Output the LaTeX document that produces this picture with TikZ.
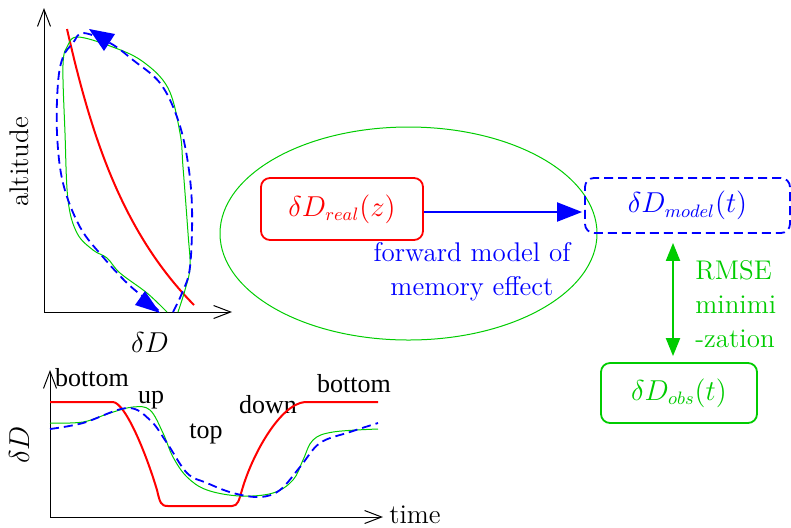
\documentclass[tikz,border=0pt]{standalone}
\usepackage{fontspec}
\newfontfamily\timesf{Liberation Serif}
\usetikzlibrary{arrows.meta,shapes.geometric,calc}
\definecolor{myred}{RGB}{255,0,0}
\definecolor{mygreen}{RGB}{0,204,0}
\definecolor{myblue}{RGB}{0,0,255}
\begin{document}
\begin{tikzpicture}[x=0.5pt,y=-0.5pt,
  axis/.style={line width=0.5pt,-{Straight Barb[length=8.5pt,width=6.5pt]}},
  realline/.style={myred,line width=1pt},
  modelline/.style={myblue,line width=0.9pt,dash pattern=on 4.5pt off 2.5pt},
  obsline/.style={mygreen,line width=0.5pt},
  tri/.style={fill=myblue,draw=none},
  lbl/.style={font=\fontsize{13.5}{17}\selectfont,inner sep=0pt},
  phase/.style={font=\timesf\fontsize{13}{15}\selectfont,inner sep=0pt},
  box/.style={rounded corners=4.5pt,line width=0.9pt,inner sep=0pt,font=\fontsize{13.5}{17}\selectfont}]
\useasboundingbox (0,0) rectangle (791,527);

% ---------- top plot ----------
\coordinate (o1) at (44,312);
\draw[axis] (o1) -- (44,8);
\draw[axis] (o1) -- (232,312);
\node[lbl,rotate=90] (alt) at (19,162) {altitude};
\node[lbl] (dd1) at (150,342) {$\delta D$};

\draw[realline] (67,29) .. controls (90,130) and (120,230) .. (194,305);

\draw[obsline] plot[smooth,tension=0.6] coordinates {(178,312) (185,290) (190,267) (188,233) (183,167) (180,133) (168,88) (142,61) (110,46) (78,37) (68,45) (63,65) (65,133) (68,200) (77,233) (93,250) (107,258) (120,273) (147,293) (167,312)};

\draw[modelline] plot[smooth,tension=0.6] coordinates {(173,312) (182,293) (190,267) (192,207) (187,157) (177,117) (160,83) (133,60) (110,43) (83,33) (73,43) (63,57) (58,83) (57,133) (63,183) (80,227) (103,257) (127,283) (147,300) (160,312)};
\fill[tri] (89,29) -- (115,34) -- (104,51) -- cycle;
\fill[tri] (160,313) -- (145,291) -- (135,305) -- cycle;

% ---------- bottom plot ----------
\coordinate (o2) at (50,517);
\draw[axis] (o2) -- (50,370);
\draw[axis] (o2) -- (383,517);
\node[lbl,rotate=90] (dd2) at (19,445) {$\delta D$};
\node[lbl] (time) at (415,515) {time};
\node[phase] (p1) at (92,378) {bottom};
\node[phase] (p2) at (151,400) {up};
\node[phase] (p3) at (206,434) {top};
\node[phase] (p4) at (268,405) {down};
\node[phase] (p5) at (354,384) {bottom};

\draw[realline] (50,402) -- (113,402) .. controls (125,403) and (145,450) .. (157,490)
  .. controls (160,503) and (161,506) .. (168,506) -- (232,506)
  .. controls (238,506) and (239,500) .. (242,490)
  .. controls (252,455) and (280,404) .. (305,402) -- (378,402);

\draw[obsline] plot[smooth,tension=0.6] coordinates {(50,423) (83,422) (110,413) (133,407) (150,410) (163,433) (173,457) (187,477) (207,490) (240,496) (273,493) (293,480) (303,460) (313,440) (333,432) (378,429)};

\draw[modelline] plot[smooth,tension=0.6] coordinates {(50,429) (83,423) (127,408) (150,420) (167,443) (187,473) (207,483) (233,493) (260,497) (280,490) (300,467) (320,443) (350,432) (378,423)};

% ---------- diagram ----------
\node[ellipse,draw=mygreen,line width=0.5pt,minimum width=188.5pt,minimum height=106.5pt,inner sep=0pt] (cloud) at (408.5,233.5) {};
\node[box,draw=myred,text=myred,minimum width=81pt,minimum height=31pt] (real) at (342,209) {$\delta D_{real}(z)$};
\node[box,draw=myblue,dash pattern=on 4.5pt off 2.5pt,text=myblue,minimum width=102.5pt,minimum height=27.5pt] (model) at (687.5,205.5) {$\delta D_{model}(t)$};
\node[box,draw=mygreen,text=mygreen,minimum width=78pt,minimum height=30pt] (obs) at (679,393) {$\delta D_{obs}(t)$};

\coordinate (ay) at (0,212);
\draw[myblue,line width=1pt,-{Triangle[length=12.5pt,width=9.5pt]},shorten >=1pt] (real.east |- ay) -- (model.west |- ay);
\node[lbl,text=myblue,align=center] (fwd) at (472,272) {forward model of\\memory effect};

\coordinate (ax) at (673,0);
\draw[mygreen,line width=1pt,{Triangle[length=9pt,width=7pt]}-{Triangle[length=9pt,width=7pt]},shorten <=4.5pt,shorten >=3pt] (model.south -| ax) -- (obs.north -| ax);
\node[lbl,text=mygreen,align=left,anchor=west] (rmse) at (695,304) {RMSE\\minimi\\-zation};
\end{tikzpicture}
\end{document}
